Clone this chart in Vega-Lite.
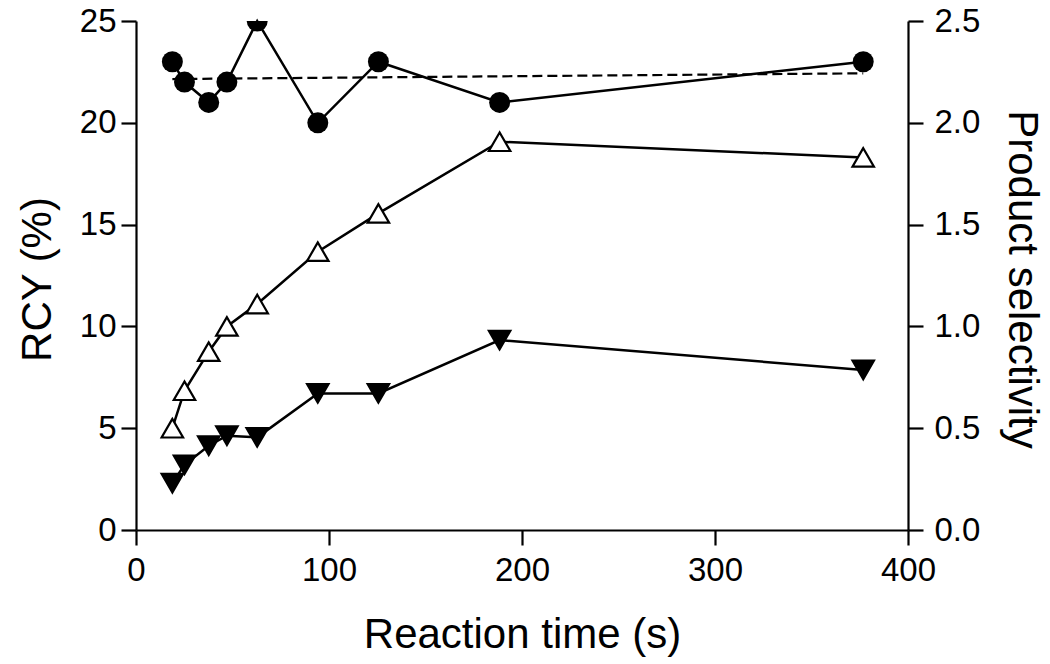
{
  "$schema": "https://vega.github.io/schema/vega-lite/v6.json",
  "autosize": "none",
  "width": 772,
  "height": 509,
  "padding": {"left": 136, "top": 21, "right": 142, "bottom": 134},
  "background": "white",
  "config": {
    "view": {"stroke": null},
    "font": "Liberation Sans",
    "axis": {
      "domainColor": "black",
      "domainWidth": 2.2,
      "tickColor": "black",
      "tickWidth": 2.2,
      "tickSize": 15,
      "labelFont": "Liberation Sans",
      "labelFontSize": 33,
      "labelColor": "black",
      "titleFont": "Liberation Sans",
      "titleFontSize": 42,
      "titleFontWeight": "normal",
      "titleColor": "black",
      "grid": false,
      "labelFlush": false,
      "labelOverlap": false
    }
  },
  "datasets": {
    "rcy": [
      {"t": 18.84, "series": "product 1", "v": 5.0},
      {"t": 25.12, "series": "product 1", "v": 6.84},
      {"t": 37.68, "series": "product 1", "v": 8.76},
      {"t": 47.1, "series": "product 1", "v": 10.0},
      {"t": 62.8, "series": "product 1", "v": 11.1},
      {"t": 94.2, "series": "product 1", "v": 13.67},
      {"t": 125.6, "series": "product 1", "v": 15.55},
      {"t": 188.4, "series": "product 1", "v": 19.07},
      {"t": 376.8, "series": "product 1", "v": 18.3},
      {"t": 18.84, "series": "product 2", "v": 2.3},
      {"t": 25.12, "series": "product 2", "v": 3.2},
      {"t": 37.68, "series": "product 2", "v": 4.14},
      {"t": 47.1, "series": "product 2", "v": 4.63},
      {"t": 62.8, "series": "product 2", "v": 4.55},
      {"t": 94.2, "series": "product 2", "v": 6.71},
      {"t": 125.6, "series": "product 2", "v": 6.71},
      {"t": 188.4, "series": "product 2", "v": 9.33},
      {"t": 376.8, "series": "product 2", "v": 7.86}
    ],
    "sel": [
      {"t": 18.84, "s": 2.3},
      {"t": 25.12, "s": 2.2},
      {"t": 37.68, "s": 2.1},
      {"t": 47.1, "s": 2.2},
      {"t": 62.8, "s": 2.5},
      {"t": 94.2, "s": 2.0},
      {"t": 125.6, "s": 2.3},
      {"t": 188.4, "s": 2.1},
      {"t": 376.8, "s": 2.3}
    ],
    "fit": [
      {"t": 18.84, "s": 2.215},
      {"t": 376.8, "s": 2.243}
    ]
  },
  "encoding": {
    "x": {
      "field": "t",
      "type": "quantitative",
      "scale": {"domain": [0, 400]},
      "axis": {
        "title": "Reaction time (s)",
        "values": [0, 100, 200, 300, 400],
        "labelPadding": 9,
        "titleY": 117,
        "titleBaseline": "alphabetic"
      }
    }
  },
  "layer": [
    {
      "data": {"name": "rcy"},
      "encoding": {
        "y": {
          "field": "v",
          "type": "quantitative",
          "scale": {"domain": [0, 25]},
          "axis": {
            "title": "RCY (%)",
            "values": [0, 5, 10, 15, 20, 25],
            "labelPadding": 5,
            "titleX": -86,
            "titleY": 258,
            "titleAngle": -90,
            "titleAlign": "center",
            "titleBaseline": "alphabetic"
          }
        }
      },
      "layer": [
        {
          "mark": {"type": "line", "color": "black", "strokeWidth": 2.5},
          "encoding": {"detail": {"field": "series"}}
        },
        {
          "mark": {"type": "point", "filled": true, "size": 460, "stroke": "black", "strokeWidth": 2.2, "opacity": 1},
          "encoding": {
            "shape": {
              "field": "series",
              "type": "nominal",
              "scale": {"domain": ["product 1", "product 2"], "range": ["triangle-up", "triangle-down"]},
              "legend": null
            },
            "fill": {
              "field": "series",
              "type": "nominal",
              "scale": {"domain": ["product 1", "product 2"], "range": ["white", "black"]},
              "legend": null
            }
          }
        }
      ]
    },
    {
      "encoding": {
        "y": {
          "field": "s",
          "type": "quantitative",
          "scale": {"domain": [0, 2.5]},
          "axis": {
            "orient": "right",
            "title": "Product selectivity",
            "values": [0, 0.5, 1, 1.5, 2, 2.5],
            "format": ".1f",
            "labelPadding": 11,
            "titleX": 100,
            "titleY": 258,
            "titleAngle": 90,
            "titleAlign": "center",
            "titleBaseline": "alphabetic"
          }
        }
      },
      "layer": [
        {
          "data": {"name": "fit"},
          "mark": {"type": "line", "color": "black", "strokeWidth": 2.2, "strokeDash": [10, 5]}
        },
        {
          "data": {"name": "sel"},
          "mark": {"type": "line", "color": "black", "strokeWidth": 2.5}
        },
        {
          "data": {"name": "sel"},
          "mark": {"type": "point", "shape": "circle", "filled": true, "size": 440, "color": "black", "opacity": 1, "clip": true}
        }
      ]
    }
  ],
  "resolve": {"scale": {"y": "independent"}}
}
